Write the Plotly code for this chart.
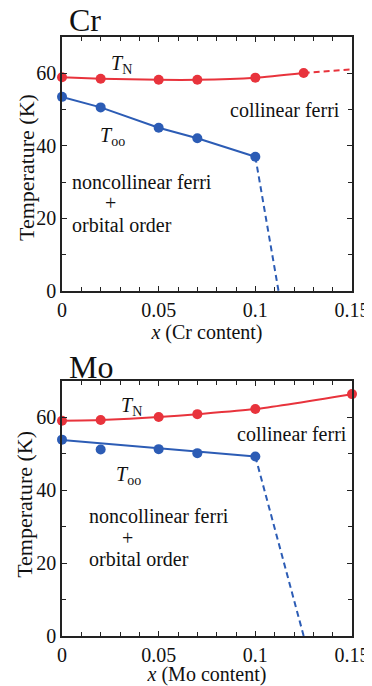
import plotly.graph_objects as go
from plotly.subplots import make_subplots

# ---- data ----
cr_x = [0, 0.02, 0.05, 0.07, 0.1, 0.125]
cr_tn = [58.9, 58.5, 58.2, 58.2, 58.8, 60.1]
cr_too_x = [0, 0.02, 0.05, 0.07, 0.1]
cr_too = [53.5, 50.6, 45.0, 42.1, 37.0]
cr_tn_ext_x = [0.125, 0.15]
cr_tn_ext = [60.1, 61.1]
cr_too_ext_x = [0.1, 0.112]
cr_too_ext = [37.0, 0]

mo_x = [0, 0.02, 0.05, 0.07, 0.1, 0.15]
mo_tn = [59.1, 59.3, 60.1, 60.9, 62.3, 66.4]
mo_too_x = [0, 0.02, 0.05, 0.07, 0.1]
mo_too = [53.9, 51.2, 51.3, 50.2, 49.3]
mo_too_fit_x = [0, 0.1]
mo_too_fit = [53.8, 49.3]
mo_too_ext_x = [0.1, 0.125]
mo_too_ext = [49.3, 0]

x_ticks = [0, 0.05, 0.1, 0.15]
x_tick_text = ["0", "0.05", "0.1", "0.15"]
y_ticks = [0, 20, 40, 60]

RED = "#e8333c"
BLUE = "#2c5cb5"
FONT = "Liberation Serif"

fig = make_subplots(rows=2, cols=1, vertical_spacing=0.15)

def add_panel(row, tn_x, tn_y, too_x, too_y, too_line_x, too_line_y,
              tn_ext_x, tn_ext_y, too_ext_x, too_ext_y):
    fig.add_trace(go.Scatter(x=tn_x, y=tn_y, mode="lines",
                             line=dict(color=RED, width=2, shape="spline", smoothing=0.6),
                             showlegend=False, hoverinfo="skip"), row=row, col=1)
    if tn_ext_x is not None:
        fig.add_trace(go.Scatter(x=tn_ext_x, y=tn_ext_y, mode="lines",
                                 line=dict(color=RED, width=2, dash="6px,4px"),
                                 showlegend=False), row=row, col=1)
    fig.add_trace(go.Scatter(x=too_line_x, y=too_line_y, mode="lines",
                             line=dict(color=BLUE, width=2),
                             showlegend=False), row=row, col=1)
    fig.add_trace(go.Scatter(x=too_ext_x, y=too_ext_y, mode="lines",
                             line=dict(color=BLUE, width=2, dash="6px,4px"),
                             showlegend=False), row=row, col=1)
    fig.add_trace(go.Scatter(x=tn_x, y=tn_y, mode="markers",
                             marker=dict(color=RED, size=10),
                             showlegend=False, cliponaxis=False), row=row, col=1)
    fig.add_trace(go.Scatter(x=too_x, y=too_y, mode="markers",
                             marker=dict(color=BLUE, size=10),
                             showlegend=False, cliponaxis=False), row=row, col=1)

add_panel(1, cr_x, cr_tn, cr_too_x, cr_too, cr_too_x, cr_too,
          cr_tn_ext_x, cr_tn_ext, cr_too_ext_x, cr_too_ext)
add_panel(2, mo_x, mo_tn, mo_too_x, mo_too, mo_too_fit_x, mo_too_fit,
          None, None, mo_too_ext_x, mo_too_ext)

axis_common = dict(showline=True, linecolor="#222", linewidth=1.5, mirror="allticks",
                   ticks="inside", ticklen=5, tickwidth=1.2, tickcolor="#222",
                   showgrid=False, zeroline=False, automargin=False,
                   tickfont=dict(family=FONT, size=20, color="#111"))

for r, name in [(1, "Cr"), (2, "Mo")]:
    fig.update_xaxes(range=[0, 0.15], tickvals=x_ticks, ticktext=x_tick_text,
                     minor=dict(dtick=0.01, ticks="inside", ticklen=4, tickcolor="#222", tickwidth=1),
                     title=dict(text=f"<i>x</i> ({name} content)", standoff=2,
                                font=dict(family=FONT, size=20, color="#111")),
                     row=r, col=1, **axis_common)
    fig.update_yaxes(range=[0, 70], tickvals=y_ticks,
                     minor=dict(dtick=10, ticks="inside", ticklen=4, tickcolor="#222", tickwidth=1),
                     row=r, col=1, **axis_common)

# page has an 8px body margin, so the figure is drawn 8px in from top-left
fig.update_layout(
    width=364, height=678,
    margin=dict(l=54, r=20, t=29, b=50),
    paper_bgcolor="white", plot_bgcolor="white",
    font=dict(family=FONT, size=20, color="#111"),
)
fig.update_yaxes(domain=[0.576, 1.0], row=1, col=1)
fig.update_yaxes(domain=[0.0, 0.4257], row=2, col=1)

def ann(text, x, y, xref, yref, size=20, **kw):
    fig.add_annotation(text=text, x=x, y=y, xref=xref, yref=yref, showarrow=False,
                       font=dict(family=FONT, size=size, color="#111"), **kw)

# y-axis titles
ann("Temperature (K)", -0.1207, 0.5, "paper", "y domain", size=22, textangle=-90,
    xanchor="center", yanchor="middle", yshift=-3)
ann("Temperature (K)", -0.1300, 0.5, "paper", "y2 domain", size=22, textangle=-90,
    xanchor="center", yanchor="middle", yshift=4)

# Cr panel labels
ann("Cr", 0.0, 1.0, "x domain", "y domain", size=32, xanchor="left", yanchor="bottom", yshift=-3, xshift=5)
ann("<i>T</i><sub>N</sub>", 0.031, 62.3, "x", "y")
ann("collinear ferri", 0.1155, 50.0, "x", "y")
ann("<i>T</i><sub>oo</sub>", 0.026, 42.6, "x", "y")
ann("noncollinear ferri", 0.0042, 30.0, "x", "y", xanchor="left")
ann("+", 0.0253, 24.3, "x", "y")
ann("orbital order", 0.0042, 18.3, "x", "y", xanchor="left")

# Mo panel labels
ann("Mo", 0.0, 1.0, "x2 domain", "y2 domain", size=32, xanchor="left", yanchor="bottom", yshift=-6, xshift=5)
ann("<i>T</i><sub>N</sub>", 0.036, 63.0, "x2", "y2")
ann("collinear ferri", 0.1192, 55.5, "x2", "y2")
ann("<i>T</i><sub>oo</sub>", 0.0346, 44.0, "x2", "y2")
ann("noncollinear ferri", 0.0128, 33.0, "x2", "y2", xanchor="left")
ann("+", 0.0337, 27.0, "x2", "y2")
ann("orbital order", 0.0128, 21.2, "x2", "y2", xanchor="left")

fig.write_html("out.html")
